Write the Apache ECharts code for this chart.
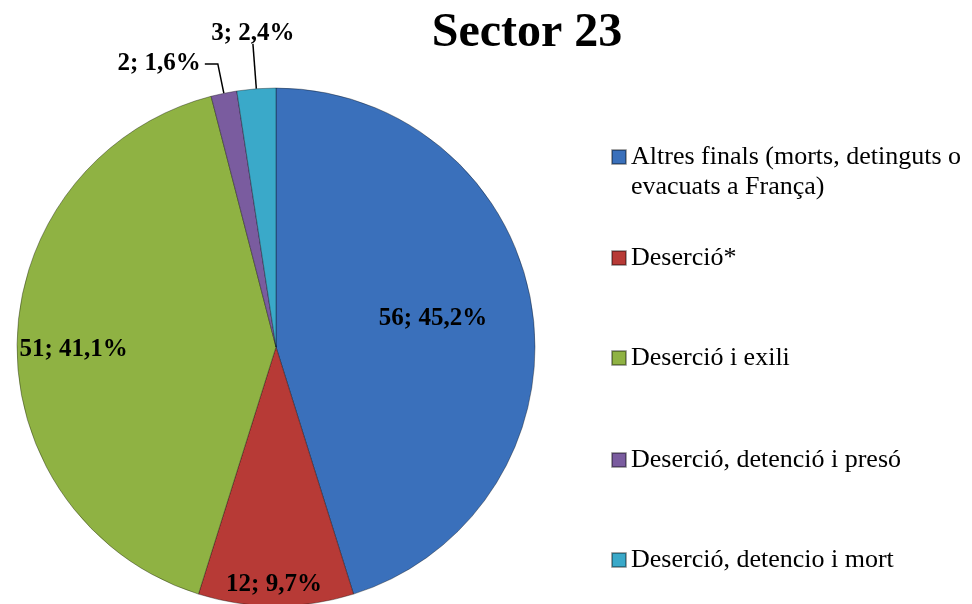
<!DOCTYPE html>
<html>
<head>
<meta charset="utf-8">
<script src="https://cdn.jsdelivr.net/npm/echarts@6/dist/echarts.min.js"></script>
<style>
    html, body { margin: 0; padding: 0; background: #fff; }
    #main { width: 972px; height: 604px; }
</style>
</head>
<body>
<div id="main"></div>
<script>
    // dades del gràfic
    var titleText = 'Sector 23';
    var categories = [
        'Altres finals (morts, detinguts o\nevacuats a França)',
        'Deserció*',
        'Deserció i exili',
        'Deserció, detenció i presó',
        'Deserció, detencio i mort'
    ];
    var values = [56, 12, 51, 2, 3];
    var colors = ['#3a70bb', '#b73a36', '#8fb243', '#7a5c9f', '#3aa9c9'];

    var chart = echarts.init(document.getElementById('main'));

    // posició del text de cada llegenda (centre de la primera línia)
    var legendCenters = [157, 258, 358, 460, 560];
    var lineH = 30;

    var serif = '"Liberation Serif", "Times New Roman", serif';

    var fmtLabel = function(params) {
        return params.value + '; ' + params.percent.toFixed(1).replace('.', ',') + '%';
    };

    var data = categories.map(function(name, i) {
        var item = {
            name: name,
            value: values[i],
            itemStyle: { color: colors[i] }
        };
        if (i >= 3) {
            item.label = { position: 'outside' };
            item.labelLine = {
                show: true,
                length: i == 3 ? 30 : 45,
                length2: i == 3 ? 13 : 0,
                lineStyle: { color: '#000', width: 1.5 }
            };
        } else {
            item.label = { position: 'inside' };
            item.labelLine = { show: false };
        }
        return item;
    });

    // desplaçaments de les etiquetes (com a l'Excel)
    var labelShift = [[26, -8], [-2, 105], [-70, 6], [0, 0], [0, -10]];

    var legends = categories.map(function(name, i) {
        var lines = i == 0 ? 3 : 1;
        return {
            data: [{ name: name, icon: 'rect' }],
            left: 611,
            top: legendCenters[i] - (lines * lineH) / 2,
            padding: 0,
            itemWidth: 14,
            itemHeight: 14,
            formatter: function(n) {
                return n == categories[0] ? '\n' + n : n;
            },
            textStyle: {
                fontFamily: serif,
                fontSize: 26,
                color: '#000',
                lineHeight: lineH
            },
            selectedMode: false
        };
    });

    var option = {
        backgroundColor: '#fff',
        animation: false,
        title: {
            text: titleText,
            left: 522,
            top: 5,
            textAlign: 'center',
            textStyle: {
                fontFamily: serif,
                fontSize: 48,
                fontWeight: 'bold',
                color: '#000'
            }
        },
        legend: legends,
        series: [{
            type: 'pie',
            center: [276, 347],
            radius: 259,
            startAngle: 90,
            clockwise: true,
            avoidLabelOverlap: false,
            itemStyle: {
                borderColor: 'rgba(0,0,0,0.35)',
                borderWidth: 1
            },
            label: {
                show: true,
                formatter: fmtLabel,
                fontFamily: serif,
                fontSize: 25,
                fontWeight: 'bold',
                color: '#000',
                distanceToLabelLine: 4
            },
            labelLayout: function(params) {
                var s = labelShift[params.dataIndex];
                if (params.dataIndex == 4) {
                    return { dx: params.labelRect.width / 2 + 4, dy: s[1] };
                }
                return { dx: s[0], dy: s[1] };
            },
            data: data
        }]
    };

    chart.setOption(option);
</script>
</body>
</html>
